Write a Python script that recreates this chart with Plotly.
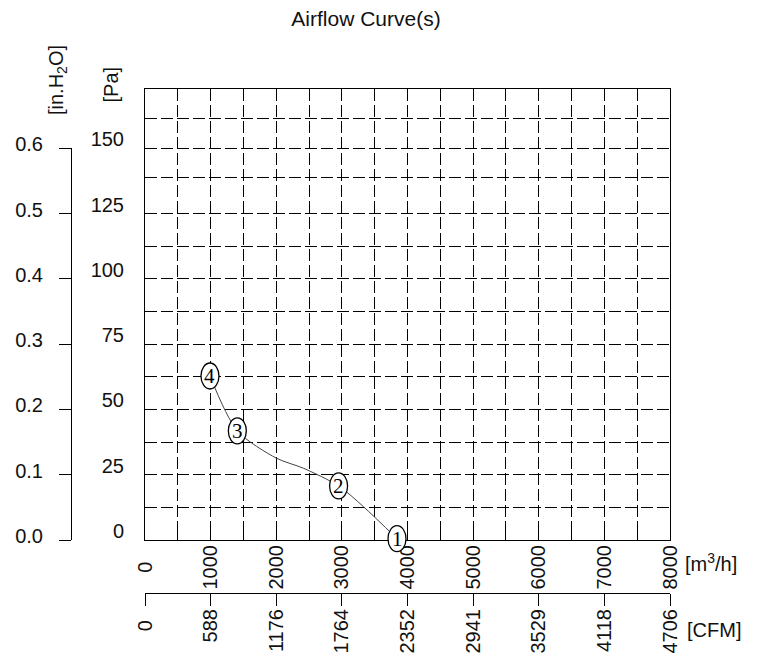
import plotly.graph_objects as go

# ---------------- data ----------------
# labelled operating points
flow_m3h = [3840, 2950, 1407, 990]          # m3/h
pressure_pa = [0.5, 20.7, 41.8, 62.8]       # Pa
point_labels = ["1", "2", "3", "4"]
# points
curve_flow = [990, 1407, 2006, 2412, 2950, 3327, 3840]
curve_pa = [62.8, 41.8, 31.3, 27.5, 20.7, 12.8, 0.5]

m3h_ticks = [0, 500, 1000, 1500, 2000, 2500, 3000, 3500, 4000,
             4500, 5000, 5500, 6000, 6500, 7000, 7500, 8000]
m3h_labels = ["0\u00a0\u00a0\u00a0", "", "1000", "", "2000", "", "3000", "", "4000",
              "", "5000", "", "6000", "", "7000", "", "8000"]
cfm_ticks = [0, 588, 1176, 1764, 2352, 2941, 3529, 4118, 4706]
cfm_labels = ["0\u00a0\u00a0", "588", "1176", "1764", "2352", "2941", "3529", "4118", "4706"]
pa_ticks = [0, 12.5, 25, 37.5, 50, 62.5, 75, 87.5, 100, 112.5, 125, 139, 150, 161.3]
pa_labels = ["0", "", "25", "", "50", "", "75", "", "100", "", "125", "", "150", ""]
inh2o_ticks = [0.0, 0.1, 0.2, 0.3, 0.4, 0.5, 0.6]
inh2o_labels = ["0.0", "0.1", "0.2", "0.3", "0.4", "0.5", "0.6"]

X_MAX = 8000
CFM_MAX = 4706
PA_MAX = 172.7
INH2O_AT_150PA = 0.6

# ---------------- layout geometry (page pixels; body margin = 8px) ----------------
OFF = 8
W, H = 745, 650
PLOT_L, PLOT_R, PLOT_T, PLOT_B = 145 - OFF, 670 - OFF, 89 - OFF, 540 - OFF
CFM_Y = 593 - OFF
ML, MR, MT, MB = 0, W - PLOT_R, PLOT_T, H - CFM_Y
PW = W - ML - MR
PH = H - MT - MB
X_DOM0 = PLOT_L / PW
Y_DOM0 = (CFM_Y - PLOT_B) / PH
Y2_TOP = Y_DOM0 + (1 - Y_DOM0) * 150 / PA_MAX
Y3_MIN = -PA_MAX * Y_DOM0 / (1 - Y_DOM0)

FONT = "Liberation Sans, Arial, sans-serif"
FS = 20
INK = "#111111"
DASH = "12px,4px"

fig = go.Figure()

fig.add_trace(go.Scatter(
    x=curve_flow, y=curve_pa, xaxis="x", yaxis="y",
    mode="lines", line=dict(color="#444444", width=1, shape="spline", smoothing=0.8),
    hoverinfo="skip", showlegend=False,
))
# empty traces so that every auxiliary axis is drawn
for xa, ya in [("x2", "y"), ("x3", "y"), ("x", "y2"), ("x", "y3")]:
    fig.add_trace(go.Scatter(x=[None], y=[None], xaxis=xa, yaxis=ya, mode="lines",
                             hoverinfo="skip", showlegend=False))

# ellipses with numbers at each operating point
for fx, py, lab in zip(flow_m3h, pressure_pa, point_labels):
    fig.add_shape(
        type="circle", xref="x", yref="y3",
        xsizemode="pixel", ysizemode="pixel",
        xanchor=fx, yanchor=py, x0=-9, x1=9, y0=-13, y1=13,
        line=dict(color="black", width=1.3), fillcolor="white", layer="above",
    )
    fig.add_annotation(x=fx, y=py, xref="x", yref="y3", text=lab, showarrow=False,
                       xanchor="center", yanchor="middle",
                       font=dict(family="Liberation Serif, DejaVu Serif, serif",
                                 size=21, color="black"))

axis_common = dict(color=INK, tickfont=dict(family=FONT, size=FS, color=INK),
                   zeroline=False, automargin=False, fixedrange=True)

fig.update_layout(
    width=W, height=H,
    margin=dict(l=ML, r=MR, t=MT, b=MB, pad=0),
    paper_bgcolor="white", plot_bgcolor="rgba(0,0,0,0)",
    template="none",
    font=dict(family=FONT, size=FS, color=INK),
    showlegend=False,
    title=dict(text="Airflow Curve(s)", x=(366 - OFF) / W, xref="container", xanchor="center",
               y=1 - (19 - OFF) / H, yref="container", yanchor="middle",
               font=dict(family=FONT, size=21, color=INK)),
    xaxis=dict(domain=[X_DOM0, 1], range=[0, X_MAX], anchor="y",
               tickmode="array", tickvals=m3h_ticks, ticktext=m3h_labels, tickangle=-90,
               ticks="inside", ticklen=10, tickwidth=1, tickcolor="black",
               showgrid=False, showline=True, mirror=True, linecolor="black", linewidth=1,
               ticklabelstandoff=-4, **axis_common),
    xaxis2=dict(overlaying="x", anchor="free", position=0, side="bottom",
                range=[0, CFM_MAX], tickmode="array", tickvals=cfm_ticks, ticktext=cfm_labels,
                tickangle=-90, ticks="outside", ticklen=12, tickwidth=1, tickcolor="black",
                showgrid=False, showline=True, linecolor="black", linewidth=1,
                ticklabelstandoff=-5, **axis_common),
    xaxis3=dict(overlaying="x", anchor="y", range=[0, X_MAX],
                tickmode="array", tickvals=m3h_ticks, showticklabels=False, ticks="",
                showgrid=True, gridcolor="black", gridwidth=1, griddash=DASH,
                showline=False, **axis_common),
    yaxis=dict(domain=[Y_DOM0, 1], range=[0, PA_MAX], anchor="x",
               tickmode="array", tickvals=pa_ticks, ticktext=pa_labels,
               ticks="", showgrid=True, gridcolor="black", gridwidth=1, griddash=DASH,
               showline=True, mirror=True, linecolor="black", linewidth=1,
               ticklabelstandoff=16, ticklabelshift=-9, **axis_common),
    yaxis2=dict(domain=[Y_DOM0, Y2_TOP], range=[0, INH2O_AT_150PA], anchor="free",
                position=(71 - OFF) / PW, side="left",
                tickmode="array", tickvals=inh2o_ticks, ticktext=inh2o_labels,
                ticks="outside", ticklen=12, tickwidth=1, tickcolor="black",
                showgrid=False, showline=True, linecolor="black", linewidth=1,
                ticklabelstandoff=12, ticklabelshift=-4, **axis_common),
    yaxis3=dict(domain=[0, 1], range=[Y3_MIN, PA_MAX], anchor="x", visible=False,
                showgrid=False, zeroline=False, fixedrange=True),
)

unit_labels = [
    ("[in.H<sub>2</sub>O]", 57, 80, -90, "center"),
    ("[Pa]", 110, 84.5, -90, "center"),
    ("[m<sup>3</sup>/h]", 683, 562, 0, "left"),
    ("[CFM]", 685, 630, 0, "left"),
]
for txt, px, py, ang, xa in unit_labels:
    fig.add_annotation(text=txt, xref="paper", yref="paper",
                       x=(px - OFF) / PW, y=(CFM_Y - (py - OFF)) / PH,
                       xanchor=xa, yanchor="middle", textangle=ang, showarrow=False,
                       font=dict(family=FONT, size=20, color=INK))

fig.write_html("out.html")
